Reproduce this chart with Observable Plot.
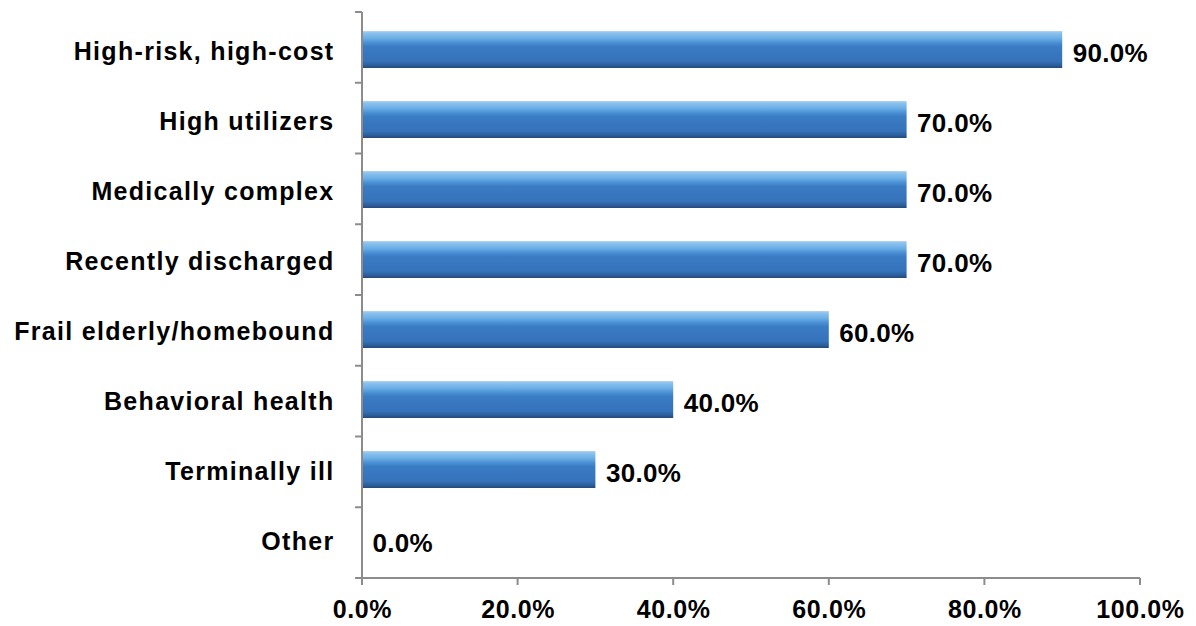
<!DOCTYPE html>
<html>
<head>
<meta charset="utf-8">
<script src="https://cdn.jsdelivr.net/npm/d3@7"></script>
<script src="https://cdn.jsdelivr.net/npm/@observablehq/plot@0.6"></script>
<style>
  html, body { margin: 0; padding: 0; background: #fff; }
  #chart svg { display: block; }
</style>
</head>
<body>
<div id="chart"></div>
<script>
const categories = ["High-risk, high-cost", "High utilizers", "Medically complex", "Recently discharged", "Frail elderly/homebound", "Behavioral health", "Terminally ill", "Other"];
const values = [0.90, 0.70, 0.70, 0.70, 0.60, 0.40, 0.30, 0.00];
const xTicks = [0, 0.2, 0.4, 0.6, 0.8, 1.0];

const data = categories.map((c, i) => ({category: c, value: values[i]}));

const axisColor = "#8c8c8c";
const font = "'Liberation Sans', Arial, sans-serif";
const fmt = d3.format(".1%");

const plot = Plot.plot({
  width: 1196,
  height: 626,
  marginLeft: 362,
  marginRight: 56,
  marginTop: 12,
  marginBottom: 48,
  style: {fontFamily: font, fontWeight: "bold", fontSize: "24px", color: "#000", background: "#fff"},
  x: {domain: [0, 1], ticks: xTicks, tickFormat: fmt, label: null},
  y: {domain: categories, paddingInner: 0.47, paddingOuter: 0.235, label: null},
  marks: [
    Plot.barX(data, {x: "value", y: "category", fill: "url(#barGrad)", filter: d => d.value > 0, style: "filter:url(#barShadow)"}),
    Plot.text(data, {x: "value", y: "category", text: d => fmt(d.value), textAnchor: "start", dx: 10, dy: 4, fontSize: 26, fontWeight: "bold", fill: "#000"}),
    Plot.axisY({tickSize: 0, tickPadding: 28, fontSize: 25, fontWeight: "bold", fill: "#000", dy: 2}),
    Plot.axisX({ticks: xTicks, tickFormat: fmt, tickSize: 0, tickPadding: 22, fontSize: 25, fontWeight: "bold", fill: "#000"})
  ]
});

const svg = d3.select(plot);
svg.selectAll("g[aria-label='y-axis tick label'] text").attr("letter-spacing", "1.3px");
svg.selectAll("g[aria-label='x-axis tick label'] text").attr("letter-spacing", "0.6px");
svg.selectAll("g[aria-label='text'] text").attr("letter-spacing", "0.3px");

const xs = plot.scale("x");
const x0 = xs.apply(0);
const yTop = 12, yBottom = 626 - 48;

const g = svg.append("g").attr("stroke", axisColor).attr("stroke-width", 2).attr("fill", "none");
g.append("line").attr("x1", x0).attr("x2", x0).attr("y1", yTop).attr("y2", yBottom);
g.append("line").attr("x1", x0).attr("x2", xs.apply(1)).attr("y1", yBottom).attr("y2", yBottom);
xTicks.forEach(t => {
  g.append("line").attr("x1", xs.apply(t)).attr("x2", xs.apply(t)).attr("y1", yBottom).attr("y2", yBottom + 7);
});
for (let i = 0; i <= categories.length; i++) {
  const yy = yTop + i * (yBottom - yTop) / categories.length;
  g.append("line").attr("x1", x0 - 7).attr("x2", x0).attr("y1", yy).attr("y2", yy);
}

const defs = svg.insert("defs", ":first-child");
const grad = defs.append("linearGradient").attr("id", "barGrad").attr("x1", 0).attr("x2", 0).attr("y1", 0).attr("y2", 1);
[
  [0, "#b7d3ec"], [0.05, "#8cc3ee"], [0.2, "#6aaee6"], [0.32, "#4a8fd4"],
  [0.42, "#3a7cc4"], [0.82, "#3572ba"], [0.92, "#2c5f9c"], [1, "#24497a"]
].forEach(([o, c]) => grad.append("stop").attr("offset", o).attr("stop-color", c));
const f = defs.append("filter").attr("id", "barShadow").attr("x", "-5%").attr("y", "-20%").attr("width", "110%").attr("height", "160%");
f.append("feDropShadow").attr("dx", 2).attr("dy", 3).attr("stdDeviation", 2.5).attr("flood-color", "#000").attr("flood-opacity", 0.25);

document.getElementById("chart").appendChild(plot);
</script>
</body>
</html>
